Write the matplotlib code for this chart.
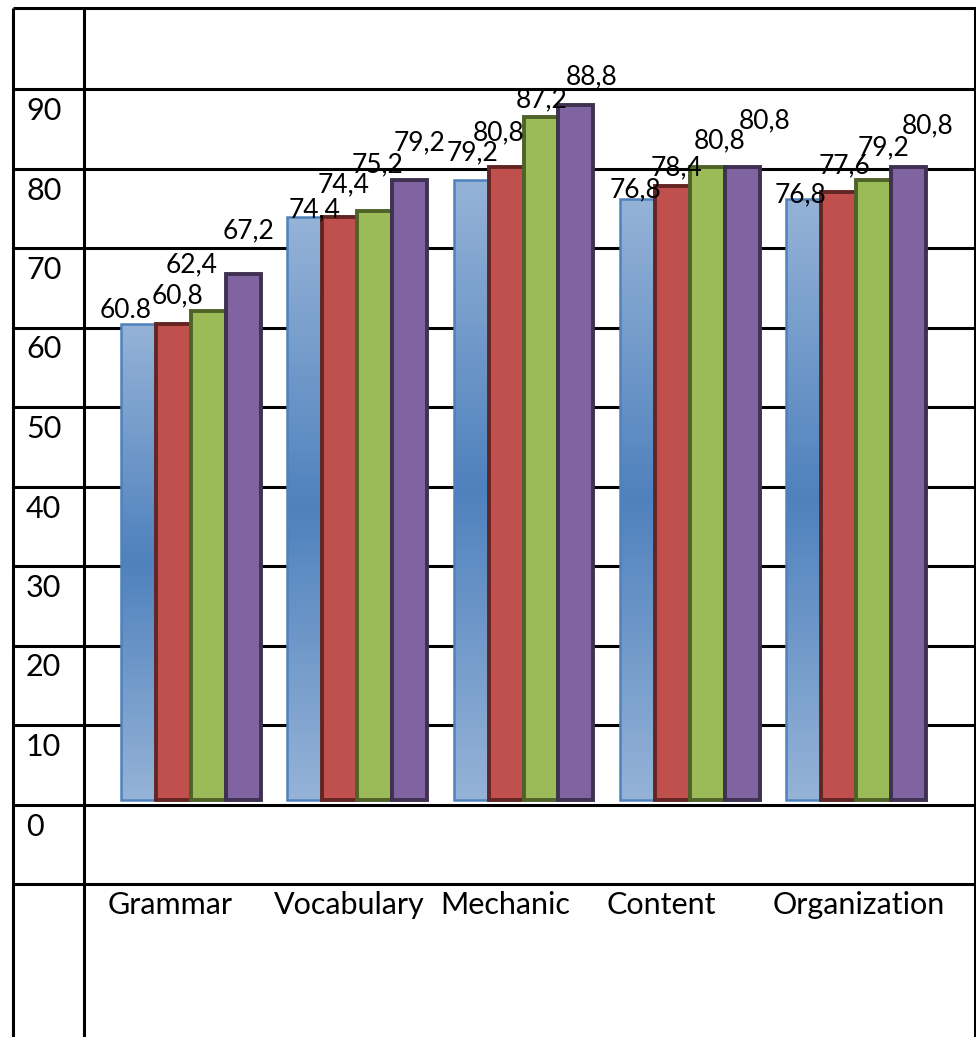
import numpy as np
import matplotlib
matplotlib.use("Agg")
import matplotlib.pyplot as plt
from matplotlib.colors import LinearSegmentedColormap

plt.rcParams['font.family'] = ['Lato', 'DejaVu Sans']

categories = ['Grammar', 'Vocabulary', 'Mechanic', 'Content', 'Organization']
y_tick_labels = ['90', '80', '70', '60', '50', '40', '30', '20', '10', '0']

# value labels as printed on the bars, one list per series
series_labels = [
    ['60.8', '74,4', '79,2', '76,8', '76,8'],
    ['60,8', '74,4', '80,8', '78,4', '77,6'],
    ['62,4', '75,2', '87,2', '80,8', '79,2'],
    ['67,2', '79,2', '88,8', '80,8', '80,8'],
]

fills = ['#4F81BD', '#C0504D', '#9BBB59', '#8064A2']
edges = ['#4F81BD', '#632523', '#4F6228', '#3F3151']
edge_widths = [1.8, 2.8, 2.8, 2.8]

# nudge of each value label from its bar top, in pixels (dx, dy up)
label_nudge = [
    [(-13, 6), (10, 0), (1, 20), (-2, 1), (-3, -4)],
    [(4, 21), (4, 25), (-7, 27), (4, 11), (6, 19)],
    [(-17, 39), (3, 39), (1, 10), (12, 19), (10, 25)],
    [(5, 36), (10, 30), (16, 20), (23, 39), (19, 34)],
]

W, H = 976, 1037
fig = plt.figure(figsize=(W / 100, H / 100), dpi=100)

# table grid behind the chart
grid = fig.add_axes([0, 0, 1, 1])
grid.set_xlim(0, W)
grid.set_ylim(H, 0)
grid.axis('off')
left, inner, right, top = 13, 84, 975, 8
rows = [top] + [89 + 79.5 * k for k in range(11)]
grid.hlines(rows, left, W, colors='black', lw=2.2)
grid.vlines([left, inner, right], top, H, colors='black', lw=2.2)
for k, lab in enumerate(y_tick_labels):
    grid.text(26, rows[k + 1] + 22, lab, fontsize=22, va='center', ha='left')

# bar chart on top
ax = fig.add_axes([inner / W, 0, (W - inner) / W, 1])
ax.patch.set_alpha(0)
px_per_unit = 7.83
group_px = 166.25
x0_px = 191
ax.axis('off')

x = np.arange(len(categories))
width = 0.21
blue_cmap = LinearSegmentedColormap.from_list(
    'blue_grad', ['#95B3D7', '#4F81BD', '#95B3D7'])

for s, labels in enumerate(series_labels):
    values = [float(t.replace(',', '.')) for t in labels]
    pos = x + (s - 1.5) * width
    bars = ax.bar(pos, values, width, color=fills[s], edgecolor=edges[s],
                  linewidth=edge_widths[s], zorder=3)
    if s == 0:
        grad = np.linspace(0, 1, 256).reshape(-1, 1)
        for b in bars:
            bx, bw, bh = b.get_x(), b.get_width(), b.get_height()
            im = ax.imshow(grad, cmap=blue_cmap, aspect='auto', origin='upper',
                           extent=(bx, bx + bw, 0, bh), zorder=2.9)
            im.set_clip_path(b)
            b.set_facecolor('none')
    for p, v, t, (dx, dy) in zip(pos, values, labels, label_nudge[s]):
        ax.annotate(t, (p, v), xytext=(dx * 0.72, dy * 0.72),
                    textcoords='offset points', ha='center', va='baseline',
                    fontsize=19, zorder=5)

for i, c in enumerate(categories):
    ax.text(x[i] - 0.5, -13.4, c, fontsize=22, ha='left', va='center')

ax.set_xlim((inner - x0_px) / group_px, (W - x0_px) / group_px)
ax.set_ylim(-(H - 800) / px_per_unit, 800 / px_per_unit)

fig.savefig('out.png', dpi=100)
